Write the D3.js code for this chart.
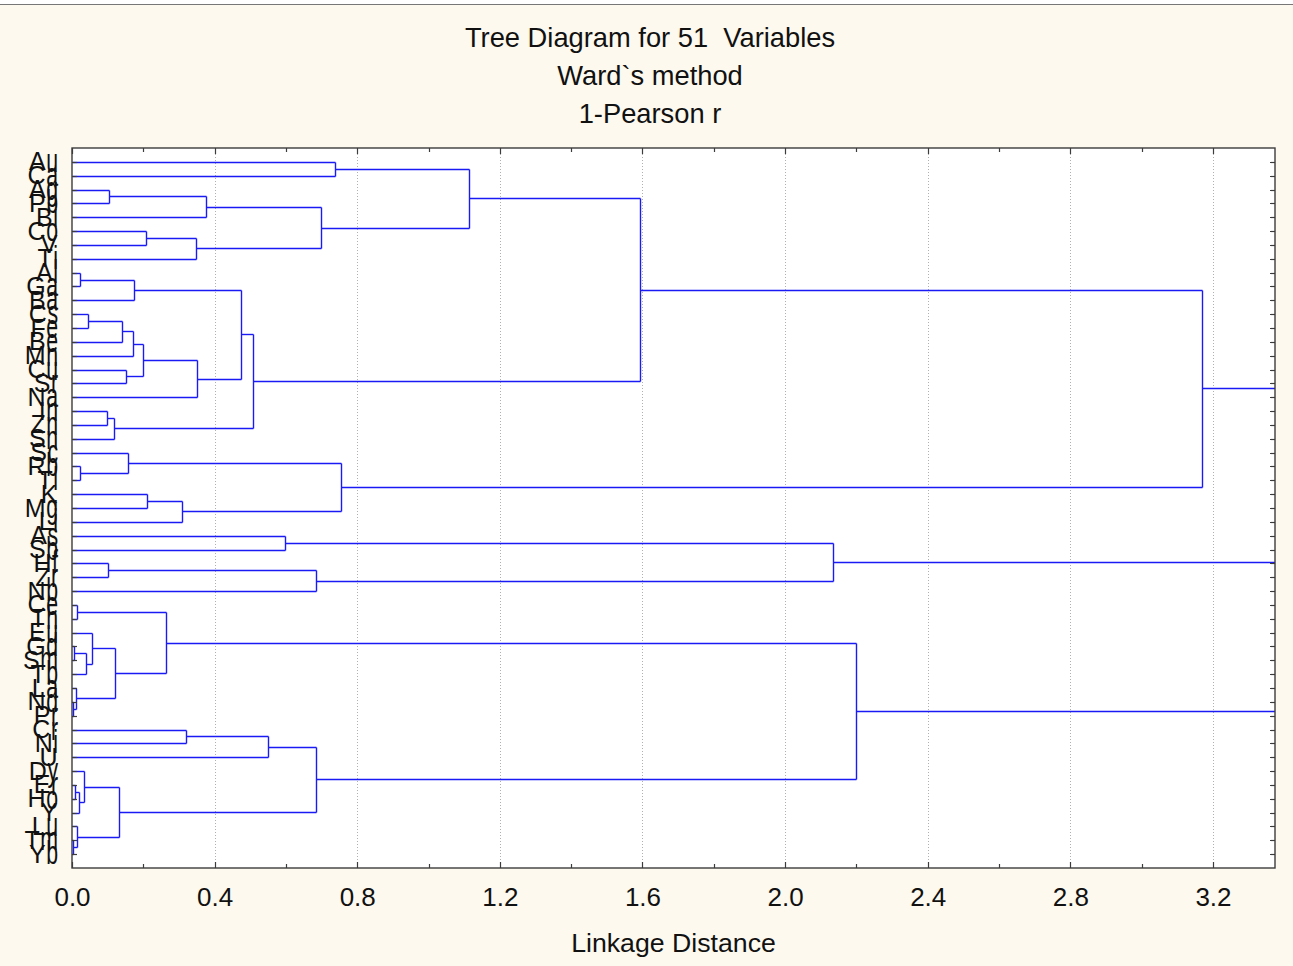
<!DOCTYPE html>
<html>
<head>
<meta charset="utf-8">
<script src="https://cdn.jsdelivr.net/npm/d3@7/dist/d3.min.js"></script>
<style>
  body { margin: 0; background: #fdf9ef; }
  svg text { font-family: "Liberation Sans", Arial, sans-serif; fill: #111; white-space: pre; }
</style>
</head>
<body>
<svg id="chart" width="1293" height="966"></svg>
<script>
// leaf labels, top to bottom
var leaves = ["Au","Ca","Ag","Pb","Bi","Co","V","Ti","Al","Ga","Ba","Cs","Fe","Be","Mn","Cu","Sr","Na",
  "In","Zn","Sn","Sc","Rb","Tl","K","Mg","Li","As","Sb","Hf","Zr","Nb","Ce","Th","Eu","Gd","Sm","Tb",
  "La","Nd","Pr","Cr","Ni","U","Dy","Er","Ho","Y","Lu","Tm","Yb"];

// merges: [a, b, linkage distance]; ids >= 51 are earlier merges (51 + row)
var merges = [
  [0, 1, 0.737], [2, 3, 0.104], [52, 4, 0.376], [5, 6, 0.207], [54, 7, 0.348], [53, 55, 0.698],
  [51, 56, 1.113], [8, 9, 0.022], [58, 10, 0.174], [11, 12, 0.045], [60, 13, 0.140], [61, 14, 0.171],
  [15, 16, 0.152], [62, 63, 0.199], [64, 17, 0.350], [59, 65, 0.474], [18, 19, 0.098], [67, 20, 0.118],
  [66, 68, 0.508], [57, 69, 1.593], [22, 23, 0.022], [21, 71, 0.158], [24, 25, 0.209], [73, 26, 0.308],
  [72, 74, 0.755], [70, 75, 3.169], [27, 28, 0.597], [29, 30, 0.102], [78, 31, 0.684], [77, 79, 2.134],
  [32, 33, 0.015], [35, 36, 0.006], [82, 37, 0.040], [34, 83, 0.055], [39, 40, 0.003], [38, 85, 0.011],
  [84, 86, 0.122], [81, 87, 0.265], [41, 42, 0.320], [89, 43, 0.550], [45, 46, 0.008], [91, 47, 0.021],
  [44, 92, 0.035], [49, 50, 0.004], [48, 94, 0.013], [93, 95, 0.132], [90, 96, 0.685], [88, 97, 2.199],
  [80, 98, 3.600], [76, 99, 4.200]
];

var majorTicks = [0, 0.4, 0.8, 1.2, 1.6, 2.0, 2.4, 2.8, 3.2];
var minorTicks = [0.2, 0.6, 1.0, 1.4, 1.8, 2.2, 2.6, 3.0];
var titles = ["Tree Diagram for 51  Variables", "Ward`s method", "1-Pearson r"];

(function() {
  var svg = d3.select("#chart");
  var pLeft = 72, pRight = 1275, pTop = 148, pBottom = 868;
  var lineColor = "#1a1af5", axisColor = "#3c3c3c";

  // build the tree
  var nodes = leaves.map(function(name, i) { return {name: name, idx: i, h: 0}; });
  merges.forEach(function(m) {
    nodes.push({children: [nodes[m[0]], nodes[m[1]]], h: m[2]});
  });
  var root = d3.hierarchy(nodes[nodes.length - 1]);

  var x = d3.scaleLinear().domain([0, 3.374]).range([pLeft, pRight]);
  var y = d3.scalePoint().domain(d3.range(leaves.length)).range([pTop, pBottom]).padding(1);

  root.eachAfter(function(n) {
    n.py = n.children ? d3.mean(n.children, function(c) { return c.py; }) : y(n.data.idx);
  });

  function px(v) { return Math.round(v) + 0.5; }

  // top border line of the page
  svg.append("rect").attr("x", 0).attr("y", 0).attr("width", 1293).attr("height", 4).attr("fill", "#fff");
  svg.append("line").attr("x1", 0).attr("x2", 1293).attr("y1", 4.5).attr("y2", 4.5)
    .attr("stroke", "#777").attr("stroke-width", 1);

  // plot background
  svg.append("rect").attr("x", pLeft).attr("y", pTop)
    .attr("width", pRight - pLeft).attr("height", pBottom - pTop).attr("fill", "#fff");

  // titles
  svg.selectAll(".title").data(titles).enter().append("text")
    .attr("class", "title")
    .attr("x", 650)
    .attr("y", function(d, i) { return 47 + i * 38; })
    .attr("text-anchor", "middle")
    .style("font-size", "27.3px")
    .text(function(d) { return d; });

  // dotted grid
  svg.selectAll(".grid").data(majorTicks.slice(1)).enter().append("line")
    .attr("class", "grid")
    .attr("x1", function(d) { return px(x(d)); })
    .attr("x2", function(d) { return px(x(d)); })
    .attr("y1", pTop).attr("y2", pBottom)
    .attr("stroke", "#b0b0b0").attr("stroke-dasharray", "1,2");

  // dendrogram
  svg.append("clipPath").attr("id", "plotclip").append("rect")
    .attr("x", pLeft).attr("y", pTop).attr("width", pRight - pLeft).attr("height", pBottom - pTop);
  var tree = svg.append("g").attr("clip-path", "url(#plotclip)")
    .attr("stroke", lineColor).attr("stroke-width", 1.4).attr("fill", "none");

  root.descendants().filter(function(n) { return n.children; }).forEach(function(n) {
    var xh = px(x(n.data.h));
    tree.append("line")
      .attr("x1", xh).attr("x2", xh)
      .attr("y1", px(n.children[0].py)).attr("y2", px(n.children[1].py));
    n.children.forEach(function(c) {
      tree.append("line")
        .attr("x1", px(x(c.data.h))).attr("x2", xh)
        .attr("y1", px(c.py)).attr("y2", px(c.py));
    });
  });

  // frame
  svg.append("rect").attr("x", pLeft).attr("y", pTop)
    .attr("width", pRight - pLeft).attr("height", pBottom - pTop)
    .attr("fill", "none").attr("stroke", axisColor).attr("stroke-width", 1.4);

  // leaf ticks on left and right, distance ticks on top and bottom
  var ticks = svg.append("g").attr("stroke", axisColor).attr("stroke-width", 1.2);
  d3.range(leaves.length).forEach(function(i) {
    ticks.append("line").attr("x1", pLeft).attr("x2", pLeft + 5).attr("y1", px(y(i))).attr("y2", px(y(i)));
    ticks.append("line").attr("x1", pRight).attr("x2", pRight - 5).attr("y1", px(y(i))).attr("y2", px(y(i)));
  });
  majorTicks.concat(minorTicks).forEach(function(v) {
    var len = majorTicks.indexOf(v) >= 0 ? 6 : 4;
    ticks.append("line").attr("x1", px(x(v))).attr("x2", px(x(v))).attr("y1", pTop).attr("y2", pTop + len);
    ticks.append("line").attr("x1", px(x(v))).attr("x2", px(x(v))).attr("y1", pBottom).attr("y2", pBottom - len);
  });

  // x axis labels
  var xAxis = d3.axisBottom(x).tickValues(majorTicks).tickFormat(d3.format(".1f")).tickSize(0).tickPadding(0);
  var ax = svg.append("g").attr("transform", "translate(0,906)").call(xAxis);
  ax.select(".domain").remove();
  ax.selectAll("text").attr("dy", 0).attr("y", 0)
    .style("font-size", "26px").style("font-family", "'Liberation Sans', Arial, sans-serif").attr("fill", "#111");

  svg.append("text").attr("x", (pLeft + pRight) / 2).attr("y", 952)
    .attr("text-anchor", "middle").style("font-size", "26.7px").text("Linkage Distance");

  // leaf labels (crowded, overlapping like the original)
  var labelRight = 58;
  leaves.forEach(function(name, i) {
    var yy = y(i) + 8.5;
    var restW = 0;
    if (name.length > 1) {
      var rest = svg.append("text")
        .attr("transform", "translate(" + labelRight + "," + (yy + 1.5) + ") scale(0.85,1.3)")
        .attr("text-anchor", "end")
        .style("font-size", "25px")
        .text(name.slice(1));
      restW = rest.node().getComputedTextLength() * 0.85;
    }
    svg.append("text")
      .attr("x", labelRight - restW - 0.5)
      .attr("y", yy)
      .attr("text-anchor", "end")
      .style("font-size", "25px")
      .text(name[0]);
  });
})();
</script>
</body>
</html>
